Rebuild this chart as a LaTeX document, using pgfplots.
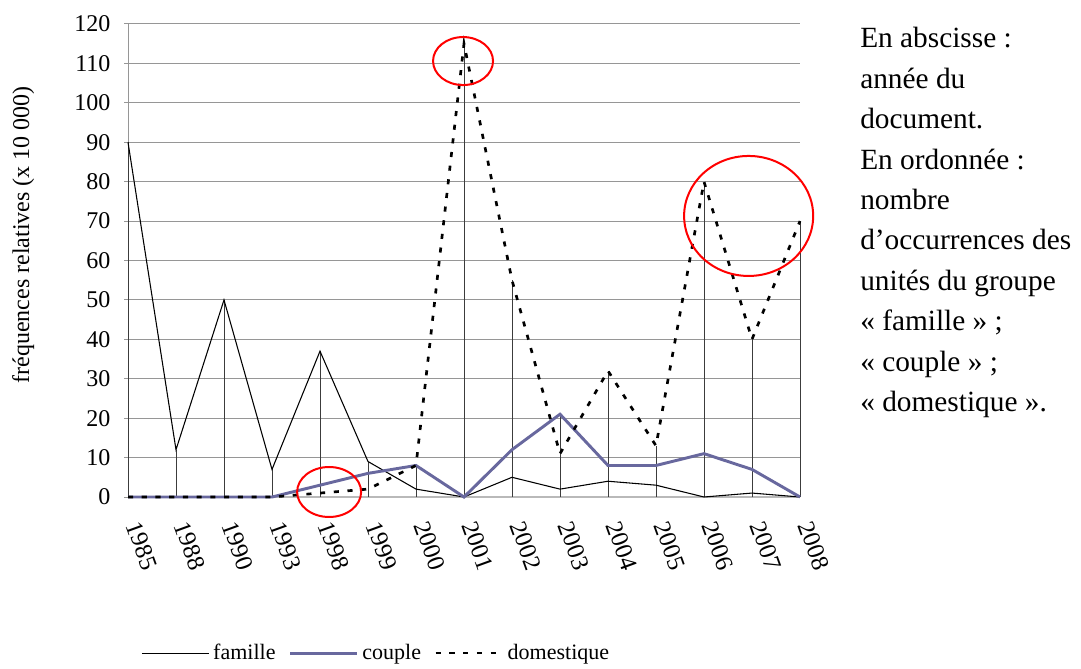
\documentclass[border=0pt]{standalone}
\usepackage{fontspec}
\setmainfont{Liberation Serif}
\usepackage{pgfplots}
\pgfplotsset{compat=1.18}
\definecolor{couplec}{RGB}{104,104,158}
\definecolor{gridc}{RGB}{150,150,150}
\definecolor{basec}{RGB}{185,185,185}
\definecolor{dropc}{RGB}{60,60,60}
\begin{document}
\begin{tikzpicture}
\path[use as bounding box] (0,0) rectangle (810.75pt,501pt);
\begin{axis}[
  at={(96pt,128.25pt)}, anchor=south west,
  scale only axis, width=504pt, height=354.75pt,
  xmin=0, xmax=14, ymin=0, ymax=120,
  xtick={0,...,14},
  xticklabels={1985,1988,1990,1993,1998,1999,2000,2001,2002,2003,2004,2005,2006,2007,2008},
  ytick={0,10,...,120},
  axis lines*=left,
  x axis line style={draw=basec, line width=1.6pt},
  y axis line style={draw=gridc, line width=0.75pt},
  ymajorgrids, grid style={draw=gridc, line width=0.75pt},
  tick align=outside,
  major tick length=3pt,
  ytick style={draw=gridc, line width=0.75pt},
  xtick style={draw=none},
  /pgf/number format/assume math mode=true,
  tick label style={font=\fontsize{18}{21}\selectfont},
  xticklabel style={font=\fontsize{18.5}{21}\selectfont},
  yticklabel style={inner sep=0pt, xshift=-10pt},
  xticklabel style={xshift=4pt, rotate=-70, anchor=west, inner sep=0pt},
  xticklabel shift=16pt,
  ylabel={fréquences relatives (x 10 000)},
  ylabel style={at={(axis description cs:-0.156,0.554)}, anchor=center, font=\fontsize{18}{21}\selectfont},
  legend style={at={(axis description cs:0.371,-0.33)}, anchor=center, draw=none, fill=none,
    legend columns=-1, font=\fontsize{16.5}{20}\selectfont,
    nodes={inner xsep=3pt},
    /tikz/every even column/.append style={column sep=7pt}},
  legend image code/.code={\draw[#1] (0pt,0pt) -- (50pt,0pt);},
  clip=false,
]
\addplot[dropc, line width=0.75pt, ycomb, forget plot] coordinates {(0,90)(1,12)(2,50)(3,7)(4,37)(5,9)(6,8)(7,115)(8,55)(9,21)(10,32)(11,13)(12,80)(13,40)(14,70)};
\addplot[black, line width=0.8pt] coordinates {(0,90)(1,12)(2,50)(3,7)(4,37)(5,9)(6,2)(7,0)(8,5)(9,2)(10,4)(11,3)(12,0)(13,1)(14,0)};
\addplot[couplec, line width=2.2pt] coordinates {(0,0)(1,0)(2,0)(3,0)(4,3)(5,6)(6,8)(7,0)(8,12)(9,21)(10,8)(11,8)(12,11)(13,7)(14,0)};
\addplot[black, line width=2pt, dash pattern=on 3.8pt off 6.5pt] coordinates {(0,0)(1,0)(2,0)(3,0)(4,1)(5,2)(6,8)(7,115)(8,55)(9,11)(10,32)(11,13)(12,80)(13,40)(14,70)};
\legend{famille,couple,domestique}
\draw[red, line width=1.5pt] (axis cs:4.19,1.27) ellipse [x radius=24pt, y radius=18.75pt];
\draw[red, line width=1.5pt] (axis cs:6.98,110.6) ellipse [x radius=22.5pt, y radius=18pt];
\draw[red, line width=1.5pt] (axis cs:12.93,71.3) ellipse [x radius=48.4pt, y radius=45pt];
\end{axis}
\node[anchor=base west, inner sep=0pt, font=\fontsize{22}{30.3}\selectfont] at (645pt,465pt)
 {\begin{tabular}[t]{@{}l@{}}En abscisse :\\ année du\\ document.\\ En ordonnée :\\ nombre\\ d’occurrences des\\ unités du groupe\\ «~famille~»~;\\ «~couple~»~;\\ «~domestique~».\end{tabular}};
\end{tikzpicture}
\end{document}
